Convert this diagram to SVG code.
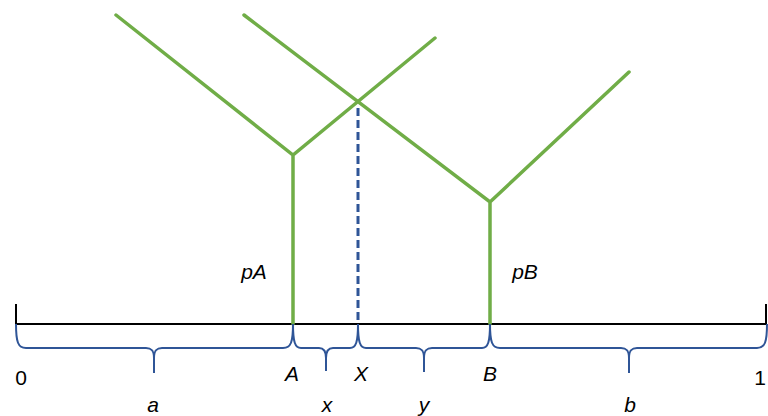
<svg xmlns="http://www.w3.org/2000/svg" width="768" height="416" viewBox="0 0 768 416">
<style>
.g{stroke:#70AD47;stroke-width:3.5;fill:none;stroke-linecap:round}
.br{stroke:#2F5597;stroke-width:2;fill:none}
.ax{stroke:#000;stroke-width:2;fill:none}
.t{font-family:"Liberation Sans",Arial,sans-serif;font-size:21px;font-style:italic;fill:#000;text-anchor:middle}
.n{font-style:normal}
</style>
<rect width="768" height="416" fill="#fff"/>
<g id="axis">
<path class="ax" d="M16,324 H767 M16,304 V324 M766,304 V324"/>
</g>
<g id="curveA">
<path class="g" d="M116,15 L293,155 L435,38 M293,155 V324"/>
</g>
<g id="curveB">
<path class="g" d="M244,15 L490,202 L629,72 M490,202 V324"/>
</g>
<g id="connectors">
<path d="M358,108 V324" stroke="#2F5597" stroke-width="3" stroke-dasharray="8,4" fill="none"/>
<path class="br" d="M16,324 C16,342 18,348 26,348 H146 C152,348 154,351 154,358 V373 M154,358 C154,351 156,348 162,348 H283 C291,348 293,342 293,324"/>
<path class="br" d="M293,324 C293,342 295,348 301,348 H319 C324,348 326,351 326,358 V371 M326,358 C326,351 328,348 333,348 H350 C356,348 358,342 358,324"/>
<path class="br" d="M358,324 C358,342 360,348 366,348 H416 C422,348 424,351 424,358 V372 M424,358 C424,351 426,348 432,348 H482 C488,348 490,342 490,324"/>
<path class="br" d="M490,324 C490,342 492,348 500,348 H621 C627,348 629,351 629,358 V373 M629,358 C629,351 631,348 637,348 H757 C765,348 767,342 767,324"/>
</g>
<g id="labels">
<text class="t" x="254" y="279">pA</text>
<text class="t" x="525" y="279">pB</text>
<text class="t n" x="21" y="385">0</text>
<text class="t" x="292" y="381">A</text>
<text class="t" x="361" y="381">X</text>
<text class="t" x="490" y="381">B</text>
<text class="t n" x="766" y="385" style="text-anchor:end">1</text>
<text class="t" x="153" y="412">a</text>
<text class="t" x="327" y="412">x</text>
<text class="t" x="424" y="412">y</text>
<text class="t" x="630" y="412">b</text>
</g>
</svg>
